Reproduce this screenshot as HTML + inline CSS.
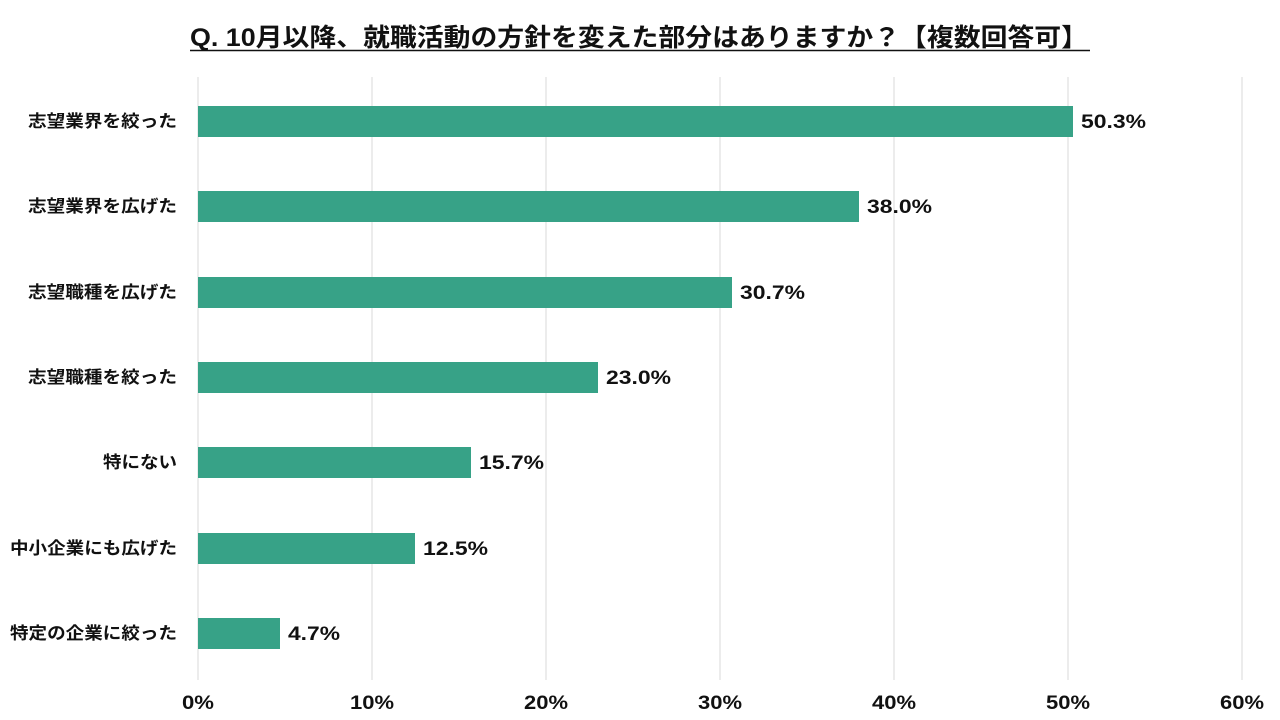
<!DOCTYPE html>
<html><head><meta charset="utf-8"><style>
html,body{margin:0;padding:0;background:#fff;}
svg{display:block;font-family:"Liberation Sans","Noto Sans CJK JP",sans-serif;font-weight:bold;}
</style></head><body>
<svg width="1280" height="720" viewBox="0 0 1280 720" xmlns="http://www.w3.org/2000/svg">
<text x="190" y="46" font-size="25" fill="#111" textLength="898" lengthAdjust="spacingAndGlyphs">Q. 10月以降、就職活動の方針を変えた部分はありますか？【複数回答可】</text>
<line x1="190" y1="50.5" x2="1090" y2="50.5" stroke="#111" stroke-width="1.5"/>
<g stroke="#d9d9d9" stroke-width="1">
<line x1="198" y1="77" x2="198" y2="680"/>
<line x1="372" y1="77" x2="372" y2="680"/>
<line x1="546" y1="77" x2="546" y2="680"/>
<line x1="720" y1="77" x2="720" y2="680"/>
<line x1="894" y1="77" x2="894" y2="680"/>
<line x1="1068" y1="77" x2="1068" y2="680"/>
<line x1="1242" y1="77" x2="1242" y2="680"/>
</g>
<g fill="#37a287">
<rect x="198" y="106" width="875" height="31"/>
<rect x="198" y="191" width="661" height="31"/>
<rect x="198" y="277" width="534" height="31"/>
<rect x="198" y="362" width="400" height="31"/>
<rect x="198" y="447" width="273" height="31"/>
<rect x="198" y="533" width="217" height="31"/>
<rect x="198" y="618" width="82" height="31"/>
</g>
<g font-size="19" fill="#111">
<text x="1081" y="128" textLength="65" lengthAdjust="spacingAndGlyphs">50.3%</text>
<text x="867" y="213" textLength="65" lengthAdjust="spacingAndGlyphs">38.0%</text>
<text x="740" y="299" textLength="65" lengthAdjust="spacingAndGlyphs">30.7%</text>
<text x="606" y="384" textLength="65" lengthAdjust="spacingAndGlyphs">23.0%</text>
<text x="479" y="469" textLength="65" lengthAdjust="spacingAndGlyphs">15.7%</text>
<text x="423" y="555" textLength="65" lengthAdjust="spacingAndGlyphs">12.5%</text>
<text x="288" y="640" textLength="52" lengthAdjust="spacingAndGlyphs">4.7%</text>
</g>
<g font-size="17" fill="#111" text-anchor="end">
<text x="177" y="127" textLength="149" lengthAdjust="spacingAndGlyphs">志望業界を絞った</text>
<text x="177" y="212" textLength="149" lengthAdjust="spacingAndGlyphs">志望業界を広げた</text>
<text x="177" y="298" textLength="149" lengthAdjust="spacingAndGlyphs">志望職種を広げた</text>
<text x="177" y="383" textLength="149" lengthAdjust="spacingAndGlyphs">志望職種を絞った</text>
<text x="177" y="468" textLength="74" lengthAdjust="spacingAndGlyphs">特にない</text>
<text x="177" y="554" textLength="167" lengthAdjust="spacingAndGlyphs">中小企業にも広げた</text>
<text x="177" y="639" textLength="167" lengthAdjust="spacingAndGlyphs">特定の企業に絞った</text>
</g>
<g font-size="19" fill="#111" text-anchor="middle">
<text x="198" y="709" textLength="32" lengthAdjust="spacingAndGlyphs">0%</text>
<text x="372" y="709" textLength="44" lengthAdjust="spacingAndGlyphs">10%</text>
<text x="546" y="709" textLength="44" lengthAdjust="spacingAndGlyphs">20%</text>
<text x="720" y="709" textLength="44" lengthAdjust="spacingAndGlyphs">30%</text>
<text x="894" y="709" textLength="44" lengthAdjust="spacingAndGlyphs">40%</text>
<text x="1068" y="709" textLength="44" lengthAdjust="spacingAndGlyphs">50%</text>
<text x="1242" y="709" textLength="44" lengthAdjust="spacingAndGlyphs">60%</text>
</g>
</svg>
</body></html>
